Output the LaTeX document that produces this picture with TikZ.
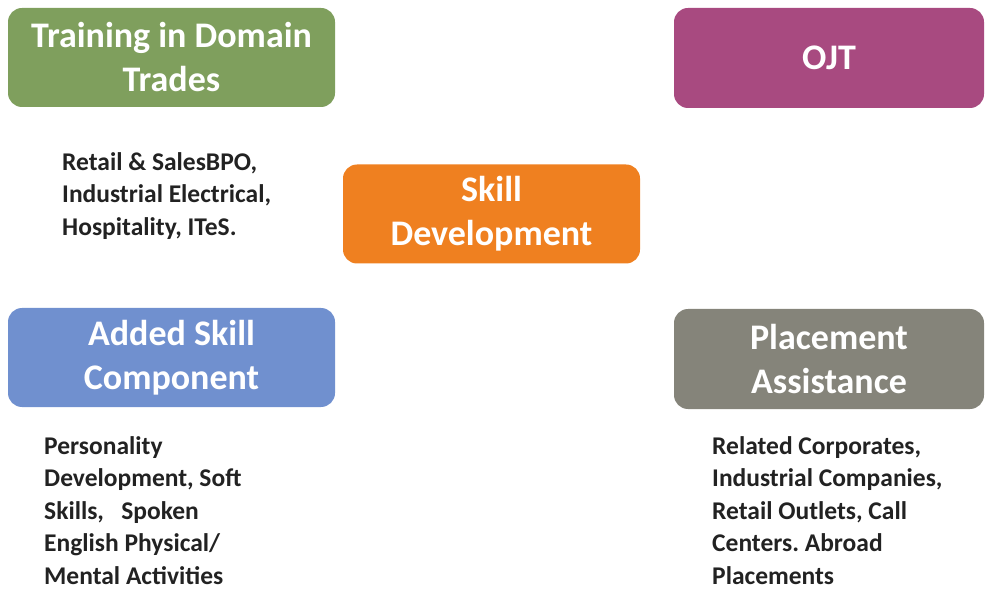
\documentclass[tikz,border=0pt]{standalone}
\usepackage{fontspec}
\setmainfont{Carlito}
\frenchspacing
\definecolor{cgreen}{HTML}{7F9F5D}
\definecolor{cpurple}{HTML}{A84A80}
\definecolor{corange}{HTML}{EF8020}
\definecolor{cblue}{HTML}{7090CF}
\definecolor{cgray}{HTML}{85847A}
\definecolor{ctext}{HTML}{222222}
\tikzset{
  tbox/.style={rounded corners=14pt, inner sep=0pt, align=center, text=white,
    font=\fontsize{36}{44}\selectfont\bfseries},
  btext/.style={anchor=north west, inner sep=0pt, align=left, text=ctext,
    font=\fontsize{25.5}{32.5}\selectfont\bfseries\frenchspacing}
}
\begin{document}
\begin{tikzpicture}[x=1pt,y=-1pt]
\useasboundingbox (0,0) rectangle (986,596);
\node[tbox, fill=cgreen, minimum width=327pt, minimum height=99pt] (train) at (171.5,57.5) {Training in Domain\\Trades};
\node[tbox, fill=cpurple, minimum width=310pt, minimum height=100pt] (ojt) at (829,58) {OJT};
\node[tbox, fill=corange, minimum width=297pt, minimum height=99pt] (skill) at (491.5,214) {Skill\\Development};
\node[tbox, fill=cblue, minimum width=327pt, minimum height=99pt] (added) at (171.5,357.5) {Added Skill\\Component};
\node[tbox, fill=cgray, minimum width=310pt, minimum height=100pt] (place) at (829,359) {Placement\\Assistance};
\node[btext] (trainbody) at (62,152) {Retail \& SalesBPO,\\Industrial Electrical,\\Hospitality, ITeS.};
\node[btext] (addedbody) at (44,436) {Personality\\Development, Soft\\Skills,\ \ \ Spoken\\English Physical/\\Mental Activities};
\node[btext] (placebody) at (712,436) {Related Corporates,\\Industrial Companies,\\Retail Outlets, Call\\Centers. Abroad\\Placements};
\end{tikzpicture}
\end{document}
